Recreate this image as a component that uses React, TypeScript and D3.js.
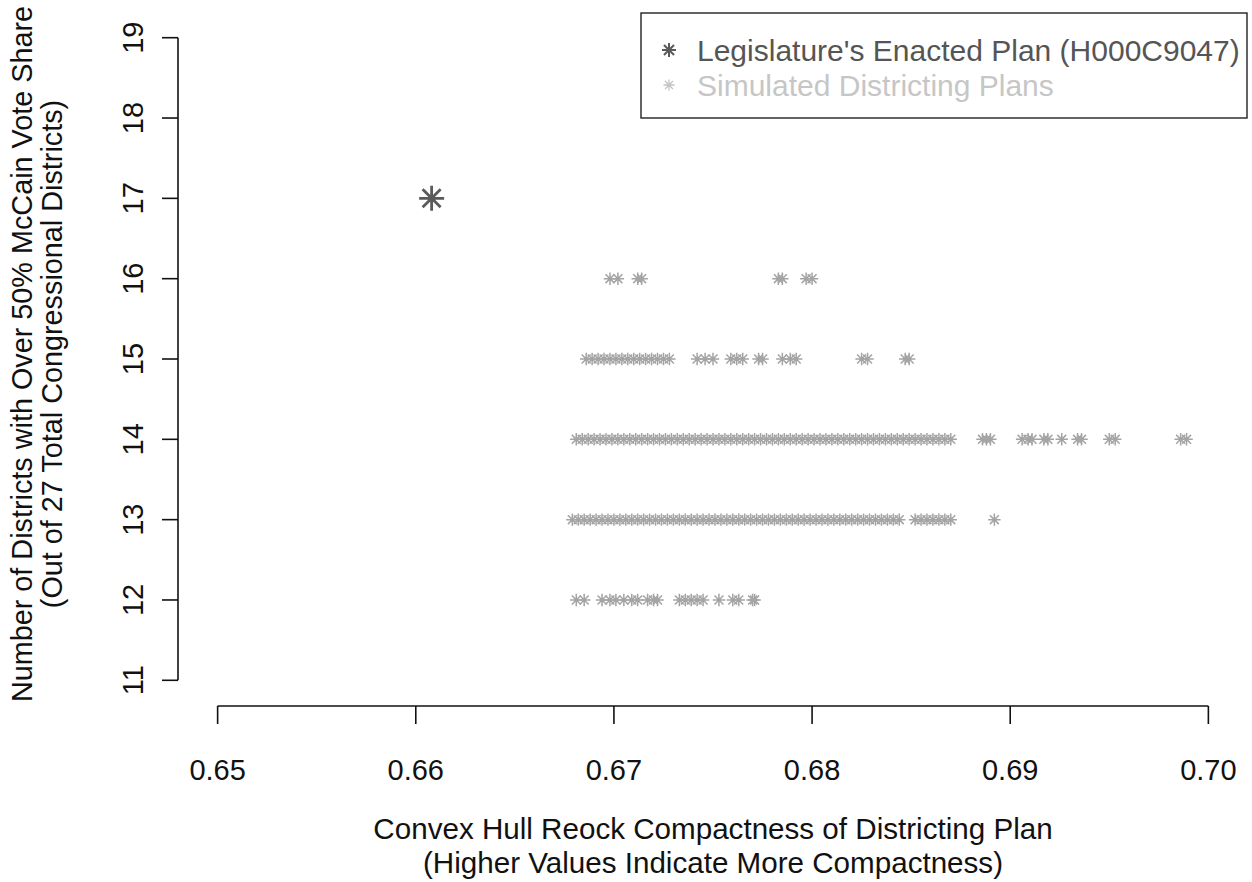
import React from "react";
import * as d3 from "d3";

// ---- Data ----
const xTicks = [0.65, 0.66, 0.67, 0.68, 0.69, 0.7];
const xTickLabels = ["0.65", "0.66", "0.67", "0.68", "0.69", "0.70"];
const yTicks = [11, 12, 13, 14, 15, 16, 17, 18, 19];

const enactedX = [0.6608];
const enactedY = [17];

const sim12 = [0.6681, 0.6685, 0.6694, 0.6698, 0.6701, 0.6705, 0.6709, 0.6712, 0.6717, 0.672, 0.6722,
  0.6733, 0.6736, 0.6739, 0.6742, 0.6745, 0.6753, 0.676, 0.6763, 0.677, 0.6771];

const sim13 = [0.6679, 0.6682, 0.6685, 0.6688, 0.6691, 0.6694, 0.6697, 0.67, 0.6703, 0.6706, 0.6709, 0.6712,
  0.6715, 0.6718, 0.6721, 0.6724, 0.6727, 0.673, 0.6733, 0.6736, 0.6739, 0.6742, 0.6745, 0.6748, 0.6751,
  0.6754, 0.6757, 0.676, 0.6763, 0.6766, 0.6769, 0.6772, 0.6775, 0.6778, 0.6781, 0.6784, 0.6787, 0.679,
  0.6793, 0.6796, 0.6799, 0.6802, 0.6805, 0.6808, 0.6811, 0.6814, 0.6817, 0.682, 0.6823, 0.6826, 0.6829,
  0.6832, 0.6835, 0.6838, 0.6841, 0.6844, 0.6852, 0.6855, 0.6858, 0.6861, 0.6864, 0.6867, 0.687, 0.6892];

const sim14 = [0.6681, 0.6684, 0.6687, 0.669, 0.6693, 0.6696, 0.6699, 0.6702, 0.6705, 0.6708, 0.6711, 0.6714,
  0.6717, 0.672, 0.6723, 0.6726, 0.6729, 0.6732, 0.6735, 0.6738, 0.6741, 0.6744, 0.6747, 0.675, 0.6753,
  0.6756, 0.6759, 0.6762, 0.6765, 0.6768, 0.6771, 0.6774, 0.6777, 0.678, 0.6783, 0.6786, 0.6789, 0.6792,
  0.6795, 0.6798, 0.6801, 0.6804, 0.6807, 0.681, 0.6813, 0.6816, 0.6819, 0.6822, 0.6825, 0.6828, 0.6831,
  0.6834, 0.6837, 0.684, 0.6843, 0.6846, 0.6849, 0.6852, 0.6855, 0.6858, 0.6861, 0.6864, 0.6867, 0.687,
  0.6886, 0.6888, 0.689, 0.6906, 0.6909, 0.6911, 0.6917, 0.6919, 0.6926, 0.6934, 0.6936, 0.695, 0.6953,
  0.6986, 0.6989];

const sim15 = [0.6686, 0.6689, 0.6692, 0.6695, 0.6698, 0.6701, 0.6704, 0.6707, 0.671, 0.6713, 0.6716, 0.6719,
  0.6722, 0.6725, 0.6728, 0.6742, 0.6746, 0.675, 0.6759, 0.6762, 0.6765, 0.6773, 0.6775, 0.6785, 0.6789,
  0.6792, 0.6825, 0.6828, 0.6847, 0.6849];

const sim16 = [0.6698, 0.6702, 0.6712, 0.6714, 0.6783, 0.6785, 0.6797, 0.68];

const simRows: [number, number[]][] = [
  [12, sim12],
  [13, sim13],
  [14, sim14],
  [15, sim15],
  [16, sim16],
];

const legendLabels = ["Legislature's Enacted Plan (H000C9047)", "Simulated Districting Plans"];
const xTitle = ["Convex Hull Reock Compactness of Districting Plan", "(Higher Values Indicate More Compactness)"];
const yTitle = ["Number of Districts with Over 50% McCain Vote Share", "(Out of 27 Total Congressional Districts)"];

// ---- Layout ----
const W = 1252;
const H = 882;
const FONT = "'Liberation Sans', Arial, Helvetica, sans-serif";
const FS = 29;
const FS_TITLE = 29.6;
const FS_YTITLE = 28.8;
const FS_LEGEND = 30;

const xScale = d3.scaleLinear().domain([0.648, 0.702]).range([178, 1248]);
const yScale = d3.scaleLinear().domain([10.68, 19.32]).range([706, 12]);

function asterisk(r: number): string {
  const d = r * 0.72;
  return `M${-r},0H${r}M0,${-r}V${r}M${-d},${-d}L${d},${d}M${-d},${d}L${d},${-d}`;
}

const SIM_COLOR = "#a4a4a4";
const ENACT_COLOR = "#5a5a5a";

export default function App() {
  const plotLeft = xScale.range()[0];
  const plotBottom = yScale.range()[0];
  const simPath = asterisk(6.2);
  const bigPath = asterisk(12.5);

  const simPoints: { x: number; y: number }[] = [];
  simRows.forEach(([y, xs]) => xs.forEach((x) => simPoints.push({ x, y })));

  const lgLeft = 641;
  const lgRight = 1247;
  const lgTop = 13;
  const lgBottom = 118;
  const row1 = 50;
  const row2 = 85;

  return (
    <svg
      width={W}
      height={H}
      style={{ position: "absolute", left: 0, top: 0, background: "#fff" }}
      fontFamily={FONT}
    >
      <rect x={0} y={0} width={W} height={H} fill="#fff" />

      {/* simulated points */}
      <g stroke={SIM_COLOR} strokeWidth={1.5} fill="none">
        {simPoints.map((p, i) => (
          <path key={i} d={simPath} transform={`translate(${xScale(p.x)},${yScale(p.y)})`} />
        ))}
      </g>

      {/* enacted plan */}
      <g stroke={ENACT_COLOR} strokeWidth={2.8} fill="none">
        {enactedX.map((x, i) => (
          <path key={i} d={bigPath} transform={`translate(${xScale(x)},${yScale(enactedY[i])})`} />
        ))}
      </g>

      {/* x axis */}
      <g stroke="#111" strokeWidth={1.6}>
        <line x1={xScale(xTicks[0])} x2={xScale(xTicks[xTicks.length - 1])} y1={plotBottom} y2={plotBottom} />
        {xTicks.map((t) => (
          <line key={t} x1={xScale(t)} x2={xScale(t)} y1={plotBottom} y2={plotBottom + 18} />
        ))}
      </g>
      <g fill="#111" fontSize={FS} textAnchor="middle">
        {xTicks.map((t, i) => (
          <text key={t} x={xScale(t)} y={770} dominantBaseline="central">
            {xTickLabels[i]}
          </text>
        ))}
      </g>

      {/* y axis */}
      <g stroke="#111" strokeWidth={1.6}>
        <line x1={plotLeft} x2={plotLeft} y1={yScale(yTicks[0])} y2={yScale(yTicks[yTicks.length - 1])} />
        {yTicks.map((t) => (
          <line key={t} x1={plotLeft - 16} x2={plotLeft} y1={yScale(t)} y2={yScale(t)} />
        ))}
      </g>
      <g fill="#111" fontSize={FS} textAnchor="middle">
        {yTicks.map((t) => (
          <text
            key={t}
            transform={`translate(${133},${yScale(t)}) rotate(-90)`}
            dominantBaseline="central"
          >
            {t}
          </text>
        ))}
      </g>

      {/* axis titles */}
      <g fill="#111" fontSize={FS_TITLE} textAnchor="middle">
        {xTitle.map((s, i) => (
          <text key={i} x={(178 + 1248) / 2} y={828 + i * 34} dominantBaseline="central">
            {s}
          </text>
        ))}
      </g>
      <g fill="#111" fontSize={FS_YTITLE} textAnchor="middle">
        {yTitle.map((s, i) => (
          <text
            key={i}
            transform={`translate(${22 + i * 30},${354}) rotate(-90)`}
            dominantBaseline="central"
          >
            {s}
          </text>
        ))}
      </g>

      {/* legend */}
      <rect
        x={lgLeft}
        y={lgTop}
        width={lgRight - lgLeft}
        height={lgBottom - lgTop}
        fill="#fff"
        stroke="#222"
        strokeWidth={1.4}
      />
      <path d={asterisk(7)} transform={`translate(669,${row1})`} stroke={ENACT_COLOR} strokeWidth={2} fill="none" />
      <path d={asterisk(5.5)} transform={`translate(669,${row2})`} stroke="#c4c4c4" strokeWidth={1.3} fill="none" />
      <text x={697} y={row1} fontSize={FS_LEGEND} fill="#555" dominantBaseline="central">
        {legendLabels[0]}
      </text>
      <text x={697} y={row2} fontSize={FS_LEGEND} fill="#c6c6c6" dominantBaseline="central">
        {legendLabels[1]}
      </text>
    </svg>
  );
}
